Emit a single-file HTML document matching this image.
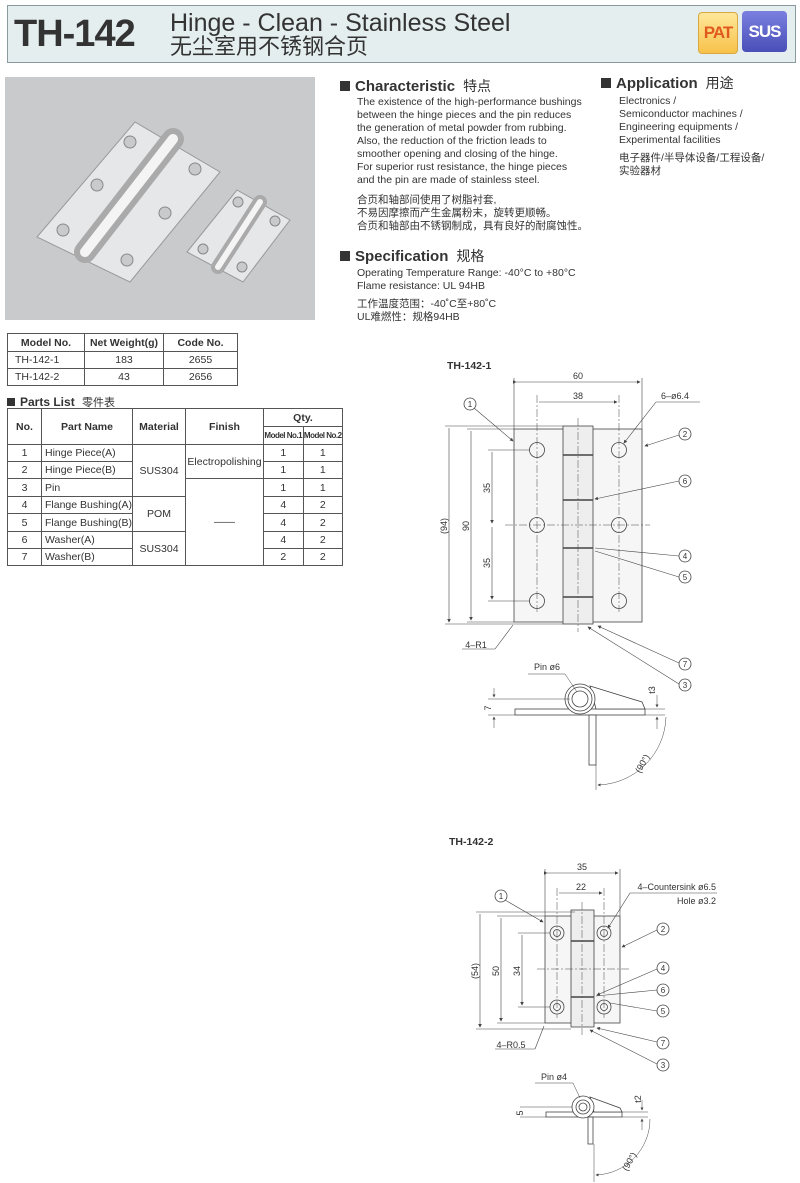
<!DOCTYPE html>
<html><head><meta charset="utf-8"><style>
body{margin:0;background:#fff;}
#p{position:relative;width:800px;height:1183px;overflow:hidden;background:#fff;font-family:"Liberation Sans","Noto Sans CJK SC",sans-serif;color:#333;}
.a{position:absolute;white-space:nowrap;}
.t{font-size:10.5px;line-height:13px;color:#333;}
.h{font-weight:bold;font-size:15px;color:#333;}
.h .z{font-weight:normal;font-size:14px;margin-left:8px;}
.sq{display:inline-block;width:10px;height:10px;background:#333;margin-right:5px;vertical-align:0px;}
table{border-collapse:collapse;position:absolute;font-size:10.5px;color:#333;}
td{border:1px solid #555;text-align:center;padding:0;white-space:nowrap;}
</style></head><body><div id="p">
<!-- header -->
<div class="a" style="left:7px;top:5px;width:787px;height:56px;background:#e4eeef;border:1px solid #8a9aa0;"></div>
<div class="a" style="left:14px;top:13px;font-size:38px;font-weight:bold;color:#333;letter-spacing:-1px;">TH-142</div>
<div class="a" style="left:170px;top:9px;font-size:25px;color:#333;">Hinge - Clean - Stainless Steel</div>
<div class="a" style="left:170px;top:34px;font-size:22px;line-height:26px;color:#333;font-family:'Liberation Sans','Noto Sans CJK SC',sans-serif;">无尘室用不锈钢合页</div>
<div class="a" style="left:698px;top:12px;width:38px;height:40px;background:linear-gradient(#ffe79a,#f7c24a);border:1px solid #d9a843;border-radius:4px;color:#e05a20;font-weight:bold;font-size:17px;line-height:40px;text-align:center;letter-spacing:-1px;">PAT</div>
<div class="a" style="left:742px;top:11px;width:45px;height:41px;background:linear-gradient(#7a7fe0,#4a4fb8);border-radius:4px;color:#fff;font-weight:bold;font-size:17px;line-height:41px;text-align:center;letter-spacing:-1px;">SUS</div>
<!-- photo -->
<svg class="a" style="left:5px;top:77px" width="310" height="243">
<rect width="310" height="243" fill="#c9cacc"/>
<polygon points="32,160 130,45 215,95 125,205" fill="#e6e7e9" stroke="#999"/>
<polygon points="182,175 232,113 285,143 238,205" fill="#e6e7e9" stroke="#999"/>
<g fill="#c9cacc" stroke="#888"><circle cx="125" cy="65" r="6"/><circle cx="190" cy="92" r="6"/><circle cx="92" cy="108" r="6"/><circle cx="160" cy="136" r="6"/><circle cx="58" cy="153" r="6"/><circle cx="122" cy="183" r="6"/>
<circle cx="233" cy="125" r="5"/><circle cx="270" cy="144" r="5"/><circle cx="198" cy="172" r="5"/><circle cx="237" cy="190" r="5"/></g>
<line x1="80" y1="175" x2="168" y2="62" stroke="#aaa" stroke-width="22" stroke-linecap="round"/>
<line x1="80" y1="175" x2="168" y2="62" stroke="#f4f4f5" stroke-width="10" stroke-linecap="round"/>
<line x1="213" y1="190" x2="255" y2="125" stroke="#aaa" stroke-width="14" stroke-linecap="round"/>
<line x1="213" y1="190" x2="255" y2="125" stroke="#f4f4f5" stroke-width="6" stroke-linecap="round"/>
</svg>
<!-- characteristic -->
<div class="a h" style="left:340px;top:76px;"><span class="sq"></span>Characteristic<span class="z">特点</span></div>
<div class="a t" style="left:357px;top:96px;">The existence of the high-performance bushings<br>between the hinge pieces and the pin reduces<br>the generation of metal powder from rubbing.<br>Also, the reduction of the friction leads to<br>smoother opening and closing of the hinge.<br>For superior rust resistance, the hinge pieces<br>and the pin are made of stainless steel.</div>
<div class="a t" style="left:357px;top:194px;">合页和轴部间使用了树脂衬套,<br>不易因摩擦而产生金属粉末，旋转更顺畅。<br>合页和轴部由不锈钢制成，具有良好的耐腐蚀性。</div>
<div class="a h" style="left:340px;top:246px;"><span class="sq"></span>Specification<span class="z">规格</span></div>
<div class="a t" style="left:357px;top:267px;">Operating Temperature Range: -40°C to +80°C<br>Flame resistance: UL 94HB</div>
<div class="a t" style="left:357px;top:298px;">工作温度范围：-40˚C至+80˚C<br>UL难燃性：规格94HB</div>
<div class="a h" style="left:601px;top:73px;"><span class="sq"></span>Application<span class="z">用途</span></div>
<div class="a t" style="left:619px;top:95px;">Electronics /<br>Semiconductor machines /<br>Engineering equipments /<br>Experimental facilities</div>
<div class="a t" style="left:619px;top:152px;">电子器件/半导体设备/工程设备/<br>实验器材</div>
<!-- model table -->
<table style="left:7px;top:333px;width:231px;">
<tr style="height:18px;font-weight:bold;"><td style="width:76px">Model No.</td><td style="width:78px">Net Weight(g)</td><td>Code No.</td></tr>
<tr style="height:17px"><td style="text-align:left;padding-left:7px">TH-142-1</td><td>183</td><td>2655</td></tr>
<tr style="height:17px"><td style="text-align:left;padding-left:7px">TH-142-2</td><td>43</td><td>2656</td></tr>
</table>
<div class="a" style="left:7px;top:394px;font-weight:bold;font-size:12px;"><span class="sq" style="width:8px;height:8px"></span>Parts List <span style="font-weight:normal;font-size:11px;margin-left:4px">零件表</span></div>
<table style="left:7px;top:408px;width:336px;table-layout:fixed;">
<tr style="height:18px;font-weight:bold;"><td rowspan="2" style="width:33px">No.</td><td rowspan="2" style="width:90px">Part Name</td><td rowspan="2" style="width:52px">Material</td><td rowspan="2" style="width:77px">Finish</td><td colspan="2">Qty.</td></tr>
<tr style="height:18px;font-weight:bold;font-size:8px;letter-spacing:-0.5px;"><td style="width:38px">Model No.1</td><td>Model No.2</td></tr>
<tr style="height:17px"><td>1</td><td style="text-align:left;padding-left:3px">Hinge Piece(A)</td><td rowspan="3">SUS304</td><td rowspan="2">Electropolishing</td><td>1</td><td>1</td></tr>
<tr style="height:17px"><td>2</td><td style="text-align:left;padding-left:3px">Hinge Piece(B)</td><td>1</td><td>1</td></tr>
<tr style="height:18px"><td>3</td><td style="text-align:left;padding-left:3px">Pin</td><td rowspan="5">——</td><td>1</td><td>1</td></tr>
<tr style="height:17px"><td>4</td><td style="text-align:left;padding-left:3px">Flange Bushing(A)</td><td rowspan="2">POM</td><td>4</td><td>2</td></tr>
<tr style="height:18px"><td>5</td><td style="text-align:left;padding-left:3px">Flange Bushing(B)</td><td>4</td><td>2</td></tr>
<tr style="height:17px"><td>6</td><td style="text-align:left;padding-left:3px">Washer(A)</td><td rowspan="2">SUS304</td><td>4</td><td>2</td></tr>
<tr style="height:17px"><td>7</td><td style="text-align:left;padding-left:3px">Washer(B)</td><td>2</td><td>2</td></tr>
</table>
<!-- drawings -->
<svg class="a" style="left:0;top:0" width="800" height="1183" font-family="Liberation Sans, sans-serif" font-size="9" fill="none" stroke="#444" stroke-width="0.8">
<defs><marker id="ar" markerWidth="6" markerHeight="6" refX="5" refY="3" orient="auto"><path d="M0,0L6,3L0,6z" fill="#444" stroke="none"/></marker></defs>
<text x="447" y="369" font-size="10.5" font-weight="bold" fill="#333" stroke="none">TH-142-1</text>
<rect x="514" y="429" width="128" height="193" fill="#f6f6f6"/>
<rect x="563" y="426" width="30" height="198" fill="#eee"/>
<g stroke-width="1.6"><line x1="563" y1="455" x2="593" y2="455"/><line x1="563" y1="500" x2="593" y2="500"/><line x1="563" y1="548" x2="593" y2="548"/><line x1="563" y1="597" x2="593" y2="597"/></g>
<g><circle cx="537" cy="450" r="7.5"/><circle cx="619" cy="450" r="7.5"/><circle cx="537" cy="525" r="7.5"/><circle cx="619" cy="525" r="7.5"/><circle cx="537" cy="601" r="7.5"/><circle cx="619" cy="601" r="7.5"/></g>
<g stroke-dasharray="8,2,2,2" stroke-width="0.5"><line x1="578" y1="418" x2="578" y2="632"/><line x1="505" y1="525" x2="650" y2="525"/><line x1="537" y1="395" x2="537" y2="612"/><line x1="619" y1="395" x2="619" y2="612"/></g>
<g stroke-width="0.6"><line x1="514" y1="378" x2="514" y2="429"/><line x1="642" y1="378" x2="642" y2="429"/>
<line x1="516" y1="382" x2="640" y2="382" marker-end="url(#ar)" marker-start="url(#ar)"/>
<line x1="539" y1="402" x2="617" y2="402" marker-end="url(#ar)"/>
<line x1="445" y1="426" x2="563" y2="426"/><line x1="445" y1="624" x2="563" y2="624"/><line x1="467" y1="429" x2="514" y2="429"/><line x1="467" y1="622" x2="514" y2="622"/>
<line x1="449" y1="428" x2="449" y2="622" marker-end="url(#ar)"/><line x1="471" y1="431" x2="471" y2="620" marker-end="url(#ar)"/>
<line x1="488" y1="450" x2="530" y2="450"/><line x1="488" y1="601" x2="530" y2="601"/>
<line x1="492" y1="452" x2="492" y2="523" marker-end="url(#ar)"/><line x1="492" y1="527" x2="492" y2="599" marker-end="url(#ar)"/>
<line x1="656" y1="402" x2="700" y2="402"/><line x1="656" y1="402" x2="624" y2="443" marker-end="url(#ar)"/>
<line x1="474" y1="408" x2="513" y2="441" marker-end="url(#ar)"/>
<line x1="679" y1="435" x2="645" y2="446" marker-end="url(#ar)"/>
<line x1="679" y1="481" x2="595" y2="499" marker-end="url(#ar)"/>
<line x1="679" y1="556" x2="595" y2="548"/><line x1="679" y1="577" x2="595" y2="551"/>
<line x1="679" y1="663" x2="598" y2="626" marker-end="url(#ar)"/><line x1="679" y1="684" x2="588" y2="627" marker-end="url(#ar)"/>
<line x1="462" y1="649" x2="495" y2="649"/><line x1="495" y1="649" x2="513" y2="625"/></g>
<g fill="#fff"><circle cx="470" cy="404" r="6"/><circle cx="685" cy="434" r="6"/><circle cx="685" cy="481" r="6"/><circle cx="685" cy="556" r="6"/><circle cx="685" cy="577" r="6"/><circle cx="685" cy="664" r="6"/><circle cx="685" cy="685" r="6"/></g>
<g fill="#333" stroke="none" font-size="8" text-anchor="middle"><text x="470" y="407">1</text><text x="685" y="437">2</text><text x="685" y="484">6</text><text x="685" y="559">4</text><text x="685" y="580">5</text><text x="685" y="667">7</text><text x="685" y="688">3</text></g>
<g fill="#333" stroke="none" font-size="9" text-anchor="middle"><text x="578" y="379">60</text><text x="578" y="399">38</text><text x="675" y="399">6–ø6.4</text>
<text x="476" y="648">4–R1</text>
<text transform="translate(447,526) rotate(-90)">(94)</text><text transform="translate(469,526) rotate(-90)">90</text><text transform="translate(490,488) rotate(-90)">35</text><text transform="translate(490,563) rotate(-90)">35</text>
<text x="547" y="670">Pin ø6</text><text transform="translate(491,708) rotate(-90)">7</text><text transform="translate(655,690) rotate(-90)">t3</text><text transform="translate(645,765) rotate(-60)">(90°)</text></g>
<rect x="515" y="709" width="130" height="6" fill="#fff"/>
<polygon points="590,686 642,702 645,709 596,709" fill="#fff"/>
<circle cx="580" cy="699" r="15" fill="#fff"/><circle cx="580" cy="699" r="12"/><circle cx="580" cy="699" r="8"/>
<rect x="589" y="715" width="7" height="50" fill="#fff"/>
<g stroke-width="0.5"><line x1="528" y1="674" x2="565" y2="674"/><line x1="565" y1="674" x2="577" y2="692"/>
<line x1="488" y1="699" x2="570" y2="699"/><line x1="488" y1="715" x2="515" y2="715"/><line x1="494" y1="688" x2="494" y2="697" marker-end="url(#ar)"/><line x1="494" y1="728" x2="494" y2="717" marker-end="url(#ar)"/>
<line x1="645" y1="709" x2="665" y2="709"/><line x1="645" y1="715" x2="665" y2="715"/><line x1="657" y1="695" x2="657" y2="707" marker-end="url(#ar)"/><line x1="657" y1="729" x2="657" y2="717" marker-end="url(#ar)"/>
<line x1="596" y1="765" x2="596" y2="790"/><path d="M666,717 A70,70 0 0 1 598,785" marker-end="url(#ar)"/></g>

<text x="449" y="845" font-size="10.5" font-weight="bold" fill="#333" stroke="none">TH-142-2</text>
<rect x="545" y="916" width="75" height="107" fill="#f6f6f6"/>
<rect x="571" y="910" width="23" height="117" fill="#eee"/>
<g stroke-width="1.6"><line x1="571" y1="941" x2="594" y2="941"/><line x1="571" y1="997" x2="594" y2="997"/></g>
<g><circle cx="557" cy="933" r="7"/><circle cx="557" cy="933" r="3.5"/><circle cx="604" cy="933" r="7"/><circle cx="604" cy="933" r="3.5"/><circle cx="557" cy="1007" r="7"/><circle cx="557" cy="1007" r="3.5"/><circle cx="604" cy="1007" r="7"/><circle cx="604" cy="1007" r="3.5"/></g>
<g stroke-dasharray="8,2,2,2" stroke-width="0.5"><line x1="582" y1="902" x2="582" y2="1035"/><line x1="537" y1="969" x2="630" y2="969"/><line x1="557" y1="888" x2="557" y2="1018"/><line x1="604" y1="888" x2="604" y2="1018"/></g>
<g stroke-width="0.6"><line x1="545" y1="869" x2="545" y2="916"/><line x1="620" y1="869" x2="620" y2="916"/>
<line x1="547" y1="873" x2="618" y2="873" marker-end="url(#ar)" marker-start="url(#ar)"/>
<line x1="559" y1="893" x2="602" y2="893" marker-end="url(#ar)"/>
<line x1="476" y1="912" x2="575" y2="912"/><line x1="476" y1="1029" x2="571" y2="1029"/><line x1="497" y1="916" x2="545" y2="916"/><line x1="497" y1="1023" x2="545" y2="1023"/>
<line x1="480" y1="914" x2="480" y2="1027" marker-end="url(#ar)"/><line x1="501" y1="918" x2="501" y2="1021" marker-end="url(#ar)"/>
<line x1="518" y1="933" x2="550" y2="933"/><line x1="518" y1="1007" x2="550" y2="1007"/><line x1="522" y1="935" x2="522" y2="1005" marker-end="url(#ar)"/>
<line x1="630" y1="893" x2="717" y2="893"/><line x1="630" y1="893" x2="608" y2="928" marker-end="url(#ar)"/>
<line x1="505" y1="900" x2="543" y2="922" marker-end="url(#ar)"/>
<line x1="657" y1="930" x2="622" y2="947" marker-end="url(#ar)"/>
<line x1="657" y1="969" x2="597" y2="995" marker-end="url(#ar)"/><line x1="657" y1="990" x2="596" y2="996"/><line x1="657" y1="1011" x2="610" y2="1003"/>
<line x1="657" y1="1042" x2="597" y2="1028" marker-end="url(#ar)"/><line x1="657" y1="1064" x2="590" y2="1030" marker-end="url(#ar)"/>
<line x1="495" y1="1049" x2="535" y2="1049"/><line x1="535" y1="1049" x2="544" y2="1026"/></g>
<g fill="#fff"><circle cx="501" cy="896" r="6"/><circle cx="663" cy="929" r="6"/><circle cx="663" cy="968" r="6"/><circle cx="663" cy="990" r="6"/><circle cx="663" cy="1011" r="6"/><circle cx="663" cy="1043" r="6"/><circle cx="663" cy="1065" r="6"/></g>
<g fill="#333" stroke="none" font-size="8" text-anchor="middle"><text x="501" y="899">1</text><text x="663" y="932">2</text><text x="663" y="971">4</text><text x="663" y="993">6</text><text x="663" y="1014">5</text><text x="663" y="1046">7</text><text x="663" y="1068">3</text></g>
<g fill="#333" stroke="none" font-size="9" text-anchor="middle"><text x="582" y="870">35</text><text x="581" y="890">22</text>
<text x="716" y="890" text-anchor="end">4–Countersink ø6.5</text><text x="716" y="904" text-anchor="end">Hole ø3.2</text>
<text x="511" y="1048">4–R0.5</text>
<text transform="translate(478,971) rotate(-90)">(54)</text><text transform="translate(499,971) rotate(-90)">50</text><text transform="translate(520,971) rotate(-90)">34</text>
<text x="554" y="1080">Pin ø4</text><text transform="translate(523,1113) rotate(-90)">5</text><text transform="translate(641,1099) rotate(-90)">t2</text><text transform="translate(632,1163) rotate(-60)">(90°)</text></g>
<rect x="546" y="1112" width="76" height="5" fill="#fff"/>
<polygon points="590,1097 620,1108 622,1112 594,1112" fill="#fff"/>
<circle cx="583" cy="1107" r="11" fill="#fff"/><circle cx="583" cy="1107" r="7"/><circle cx="583" cy="1107" r="4"/>
<rect x="588" y="1117" width="5" height="27" fill="#fff"/>
<g stroke-width="0.5"><line x1="535" y1="1083" x2="573" y2="1083"/><line x1="573" y1="1083" x2="580" y2="1098"/>
<line x1="520" y1="1107" x2="572" y2="1107"/><line x1="520" y1="1117" x2="546" y2="1117"/>
<line x1="622" y1="1112" x2="648" y2="1112"/><line x1="622" y1="1117" x2="648" y2="1117"/><line x1="642" y1="1100" x2="642" y2="1110" marker-end="url(#ar)"/><line x1="642" y1="1130" x2="642" y2="1119" marker-end="url(#ar)"/>
<line x1="594" y1="1144" x2="594" y2="1182"/><path d="M650,1119 A56,56 0 0 1 596,1175" marker-end="url(#ar)"/></g>
</svg>
</div></body></html>
